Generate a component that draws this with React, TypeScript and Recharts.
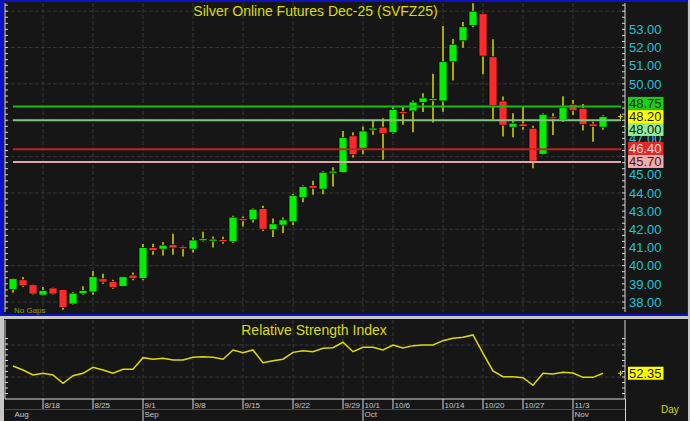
import React from 'react';
import { ComposedChart, Bar, Line, XAxis, YAxis, ReferenceLine, CartesianGrid } from 'recharts';

// ---------- data ----------
const days = ['8/13','8/14','8/15','8/18','8/19','8/20','8/21','8/22','8/25','8/26','8/27','8/28','8/29','9/1','9/2','9/3','9/4','9/5','9/8','9/9','9/10','9/11','9/12','9/15','9/16','9/17','9/18','9/19','9/22','9/23','9/24','9/25','9/26','9/29','9/30','10/1','10/2','10/3','10/6','10/7','10/8','10/9','10/10','10/14','10/15','10/16','10/17','10/20','10/21','10/22','10/23','10/27','10/28','10/29','10/30','10/31','11/3','11/4','11/5','11/6'];
const opens = [38.68,39.22,38.95,38.38,38.77,38.68,37.89,38.45,38.55,39.28,39.13,38.86,39.48,39.30,40.99,40.91,41.15,41.04,40.91,41.37,41.35,41.44,41.31,42.60,42.52,43.14,41.98,42.23,42.41,43.75,44.41,44.21,45.12,45.13,47.14,46.46,47.47,47.62,47.32,48.47,48.51,48.97,49.08,49.06,51.22,52.37,53.22,53.86,51.49,49.06,47.62,47.80,47.56,46.13,48.18,48.05,48.88,48.66,47.80,47.62];
const highs = [39.32,39.37,38.97,38.82,38.80,38.70,38.55,38.86,39.70,39.55,39.22,39.40,39.63,41.19,41.20,41.30,41.75,41.10,41.55,41.86,41.60,41.59,42.74,42.70,43.16,43.29,42.60,42.65,43.95,44.41,44.67,45.20,45.42,47.41,47.34,47.65,47.98,48.11,48.79,48.79,49.08,49.48,50.56,53.18,52.47,53.40,54.43,53.91,52.45,49.30,48.38,48.75,47.69,48.38,48.38,49.32,49.12,48.90,47.92,48.27];
const lows = [38.51,38.82,38.40,38.36,38.40,37.58,37.85,38.40,38.40,39.00,38.73,38.84,39.19,39.19,40.60,40.56,40.60,40.50,40.73,41.33,41.00,41.20,41.24,42.15,42.37,41.90,41.57,41.79,42.23,43.49,43.90,43.93,44.35,45.10,45.95,46.13,47.20,45.82,47.25,47.75,47.34,48.46,47.87,48.47,50.18,51.99,53.11,50.53,48.05,47.10,47.07,47.47,45.36,46.10,47.19,47.92,48.29,47.43,46.82,47.47];
const closes = [39.28,38.89,38.44,38.64,38.44,37.69,38.49,38.64,39.39,39.10,38.80,39.39,39.30,40.99,40.82,41.13,40.97,40.93,41.41,41.48,41.46,41.31,42.67,42.47,43.11,42.01,42.30,42.52,43.86,44.35,44.26,45.14,45.17,47.04,46.10,47.41,47.56,47.26,48.60,48.38,49.00,49.23,49.19,51.22,52.18,53.14,54.00,51.53,48.82,47.73,47.84,47.65,45.75,48.33,48.09,48.69,48.53,47.76,47.65,48.20];
const rsiValues = [56.9,54.4,51.3,52.3,51.3,46.1,50.8,52.3,56.1,54.4,52.3,54.8,54.8,62.1,61.1,61.7,60.6,60.6,62.3,62.7,62.3,61.1,66.9,65.2,66.9,58.9,60.2,61.1,65.4,66.4,65.8,67.9,68.3,71.7,65.8,68.6,68.6,66.9,70.0,68.1,69.6,70.0,70.0,72.7,74.2,74.8,76.3,64.8,53.8,50.2,50.2,49.6,44.8,52.3,51.9,52.9,52.5,49.8,49.8,52.35];

const priceGridValues = [38, 40, 42, 44, 46, 48, 50, 52, 54];
const rsiGridValues = [50, 70];
const dateTickDays = ['8/18','8/25','9/1','9/8','9/15','9/22','9/29','10/1','10/6','10/14','10/20','10/27','11/3'];
const monthDays = ['8/13','9/1','10/1','11/3'];
const monthNames = ['Aug','Sep','Oct','Nov'];

const levelValues = [48.75, 48.0, 46.4, 45.7];
const title = 'Silver Online Futures Dec-25 (SVFZ25)';
const rsiTitle = 'Relative Strength Index';

// ---------- derived ----------
const rows = days.map((d, i) => ({
  i, day: d, o: opens[i], h: highs[i], l: lows[i], c: closes[i],
  range: [lows[i], highs[i]], rsi: rsiValues[i],
}));
const lastClose = closes[closes.length - 1];
const lastRsi = rsiValues[rsiValues.length - 1];
const dateTickIdx = dateTickDays.map((d) => days.indexOf(d));
const monthIdx = monthDays.map((d) => days.indexOf(d));
const axisTickIdx = Array.from(new Set([...monthIdx, ...dateTickIdx])).sort((a, b) => a - b);

const X_DOMAIN: [number, number] = [-0.8, 61.2];
const P_DOMAIN: [number, number] = [37.45, 54.45];
const R_DOMAIN: [number, number] = [36.25, 85.625];
const P_PX_PER_UNIT = 309 / (P_DOMAIN[1] - P_DOMAIN[0]);

const priceTicks: number[] = [];
for (let n = 37; n <= 55; n++) for (let k = 0; k < 3; k++) {
  const v = n + k / 3;
  if (v > P_DOMAIN[0] && v < P_DOMAIN[1]) priceTicks.push(v);
}
const rsiTicks: number[] = [];
for (let k = -3; k <= 7; k++) {
  const v = 50 + k * 3.4375;
  if (v > R_DOMAIN[0] && v < R_DOMAIN[1]) rsiTicks.push(v);
}

// ---------- styles ----------
const FONT = '"Liberation Sans", Arial, sans-serif';
const BG = '#161616';
const GRID = '#363636';
const AXIS = '#d6d6d6';
const WICK = '#b8b800';
const UP = '#00f000';
const DOWN = '#ff2b2b';
const CYAN = '#18c6da';
const YEL = '#dcdc00';

const levelStyles = [
  { stroke: '#10c010', bg: '#18d018', fg: '#0a1a0a', dy: -3.2 },
  { stroke: '#80c480', bg: '#94ec94', fg: '#102010', dy: 9.2 },
  { stroke: '#c02222', bg: '#e42828', fg: '#ffdede', dy: -0.9 },
  { stroke: '#e2a6a6', bg: '#f4abab', fg: '#3a1c1c', dy: -0.6 },
];
// value at which each price tag box is centred (tags cover the axis labels beneath them)
const tagCentres = [
  ...levelValues.map((v, k) => v - levelStyles[k].dy / P_PX_PER_UNIT),
  lastClose,
];

const isMajor = (v: number) => Math.abs(v - Math.round(v)) < 1e-6;
const isCovered = (v: number) => tagCentres.some((t) => Math.abs(t - v) < 0.45);

const Candle = (props: any) => {
  const { x, y, width, height, payload } = props;
  if (x == null || y == null) return null;
  const { o, h, l, c } = payload;
  const cx = x + width / 2;
  const per = h > l ? height / (h - l) : 0;
  const yv = (v: number) => y + (h - v) * per;
  const top = yv(Math.max(o, c));
  const bot = yv(Math.min(o, c));
  const up = c >= o;
  const bh = Math.max(bot - top, 2);
  return (
    <g>
      <line x1={cx} x2={cx} y1={y} y2={y + height} stroke={WICK} strokeWidth={1.8} />
      <rect x={cx - 4} y={top - (bh - (bot - top)) / 2} width={8} height={bh} fill={up ? UP : DOWN} stroke="#050505" strokeWidth={0.7} />
    </g>
  );
};

const RightPriceTick = (p: any) => {
  const { x, y, payload } = p;
  const v = payload.value;
  const show = isMajor(v) && v >= 38 && v <= 53 && !isCovered(v);
  return (
    <g>
      <line x1={x - 3} x2={x} y1={y} y2={y} stroke={AXIS} strokeWidth={1} />
      {show ? (
        <text x={x + 4} y={y + 4.7} fontSize={13} fill={CYAN} fontFamily={FONT}>{Math.round(v).toFixed(2)}</text>
      ) : null}
    </g>
  );
};

const LeftTick = (p: any) => {
  const { x, y } = p;
  return <line x1={x} x2={x + 3} y1={y} y2={y} stroke={AXIS} strokeWidth={1} />;
};

const RightRsiTick = (p: any) => {
  const { x, y } = p;
  return <line x1={x - 3} x2={x} y1={y} y2={y} stroke={AXIS} strokeWidth={1} />;
};

const DateTick = (p: any) => {
  const { x, y, payload } = p;
  const v = payload.value;
  const di = dateTickIdx.indexOf(v);
  const mi = monthIdx.indexOf(v);
  return (
    <g>
      {di >= 0 ? (
        <g>
          <line x1={x} x2={x} y1={y} y2={y + 10} stroke={AXIS} strokeWidth={1} />
          <text x={x + 1.5} y={y + 8.5} fontSize={8} fill="#c8c8c8" fontFamily={FONT}>{dateTickDays[di]}</text>
        </g>
      ) : null}
      {mi >= 0 ? (
        <g>
          {mi > 0 ? <line x1={x} x2={x} y1={y + 10} y2={y + 22} stroke={AXIS} strokeWidth={1} /> : null}
          <text x={x + 1.5} y={y + 17.5} fontSize={8} fill="#c8c8c8" fontFamily={FONT}>{monthNames[mi]}</text>
        </g>
      ) : null}
    </g>
  );
};

const makeTag = (text: string, bg: string, fg: string, dy: number, marker: boolean) => (p: any) => {
  const vb = p.viewBox || {};
  const x0 = (vb.x || 0) + (vb.width || 0);
  const yc = (vb.y || 0) + dy;
  return (
    <g>
      {marker ? <path d={`M${x0 - 7} ${yc}h5M${x0 - 4.5} ${yc - 2.5}v5`} stroke={YEL} strokeWidth={1} /> : null}
      <rect x={x0 + 3} y={yc - 6.5} width={35.5} height={13} fill={bg} />
      <text x={x0 + 4} y={yc + 4.7} fontSize={13} fill={fg} fontFamily={FONT}>{text}</text>
    </g>
  );
};

const mainMargin = { top: 3, right: 3, bottom: 4, left: 0 };

export default function App() {
  return (
    <div style={{ position: 'absolute', left: 0, top: 0, width: 690, height: 421, background: '#c6c6c6', overflow: 'hidden', fontFamily: FONT }}>
      <div style={{ position: 'absolute', left: 0, top: 0, width: 688, height: 316, background: '#0c12c4' }} />
      <div style={{ position: 'absolute', left: 4, top: 2, width: 683, height: 312, background: BG }} />
      <div style={{ position: 'absolute', left: 4, top: 319, width: 684, height: 102, background: BG }} />

      <div style={{ position: 'absolute', left: 0, top: 0 }}>
        <ComposedChart width={690} height={316} data={rows} margin={mainMargin}>
          <CartesianGrid yAxisId="p" stroke={GRID} strokeDasharray="4 2" horizontalValues={priceGridValues} verticalValues={dateTickIdx} />
          <XAxis type="number" dataKey="i" domain={X_DOMAIN} allowDataOverflow hide />
          <YAxis yAxisId="p" orientation="right" type="number" domain={P_DOMAIN} allowDataOverflow width={62}
            ticks={priceTicks} interval={0} tickSize={0} tickMargin={0} tickLine={false}
            axisLine={{ stroke: AXIS }} tick={RightPriceTick} />
          <YAxis yAxisId="L" orientation="left" type="number" domain={P_DOMAIN} allowDataOverflow width={5}
            ticks={priceTicks} interval={0} tickSize={0} tickMargin={0} tickLine={false}
            axisLine={{ stroke: AXIS }} tick={LeftTick} />
          <Bar yAxisId="p" dataKey="range" barSize={8} shape={Candle} isAnimationActive={false} />
          {levelValues.map((v, k) => (
            <ReferenceLine key={'ln' + k} yAxisId="p" segment={[{ x: 0, y: v }, { x: 60.8, y: v }]}
              stroke={levelStyles[k].stroke} strokeWidth={2} ifOverflow="visible" />
          ))}
        </ComposedChart>
      </div>

      {/* overlay with identical geometry: price tags drawn above the axis labels */}
      <div style={{ position: 'absolute', left: 0, top: 0 }}>
        <ComposedChart width={690} height={316} data={rows} margin={mainMargin}>
          <XAxis type="number" dataKey="i" domain={X_DOMAIN} allowDataOverflow hide />
          <YAxis yAxisId="p" orientation="right" type="number" domain={P_DOMAIN} allowDataOverflow width={62}
            tick={false} tickLine={false} axisLine={false} />
          <YAxis yAxisId="L" orientation="left" type="number" domain={P_DOMAIN} allowDataOverflow width={5}
            tick={false} tickLine={false} axisLine={false} />
          {levelValues.map((v, k) => (
            <ReferenceLine key={'tg' + k} yAxisId="p" y={v} stroke="none" strokeOpacity={0}
              label={makeTag(v.toFixed(2), levelStyles[k].bg, levelStyles[k].fg, levelStyles[k].dy, false)} />
          ))}
          <ReferenceLine yAxisId="p" y={lastClose} stroke="none" strokeOpacity={0}
            label={makeTag(lastClose.toFixed(2), '#ffff00', '#1a1a00', 0, true)} />
        </ComposedChart>
      </div>

      <div style={{ position: 'absolute', left: 0, top: 318 }}>
        <ComposedChart width={690} height={103} data={rows} margin={{ top: 2, right: 3, bottom: 0, left: 0 }}>
          <CartesianGrid yAxisId="r" stroke={GRID} strokeDasharray="4 2" horizontalValues={rsiGridValues} verticalValues={dateTickIdx} />
          <XAxis type="number" dataKey="i" domain={X_DOMAIN} allowDataOverflow height={22}
            ticks={axisTickIdx} interval={0} tickSize={0} tickMargin={0} tickLine={false}
            axisLine={{ stroke: AXIS }} tick={DateTick} />
          <YAxis yAxisId="r" orientation="right" type="number" domain={R_DOMAIN} allowDataOverflow width={62}
            ticks={rsiTicks} interval={0} tickSize={0} tickMargin={0} tickLine={false}
            axisLine={{ stroke: AXIS }} tick={RightRsiTick} />
          <YAxis yAxisId="L" orientation="left" type="number" domain={R_DOMAIN} allowDataOverflow width={5}
            ticks={rsiTicks} interval={0} tickSize={0} tickMargin={0} tickLine={false}
            axisLine={{ stroke: AXIS }} tick={LeftTick} />
          <Line yAxisId="r" type="linear" dataKey="rsi" stroke={YEL} strokeWidth={1.5} dot={false} isAnimationActive={false} />
          <ReferenceLine yAxisId="r" y={lastRsi} stroke="none" strokeOpacity={0}
            label={makeTag(lastRsi.toFixed(2), '#ffff00', '#1a1a00', 0, true)} />
        </ComposedChart>
      </div>

      <div style={{ position: 'absolute', left: 0, top: 4, width: 631, textAlign: 'center', fontSize: 14, lineHeight: 1, color: YEL, whiteSpace: 'pre' }}>{title}</div>
      <div style={{ position: 'absolute', left: 0, top: 323, width: 628, textAlign: 'center', fontSize: 14, lineHeight: 1, color: YEL, whiteSpace: 'pre' }}>{rsiTitle}</div>
      <div style={{ position: 'absolute', left: 14, top: 307, fontSize: 8, lineHeight: 1, color: '#9c9c00' }}>No Gaps</div>
      <div style={{ position: 'absolute', left: 661, top: 405, fontSize: 10, lineHeight: 1, color: YEL }}>Day</div>
      <div style={{ position: 'absolute', left: 5, top: 409, width: 620, height: 1, background: '#4a4a4a' }} />
      <div style={{ position: 'absolute', left: 625, top: 399, width: 1, height: 22, background: AXIS }} />
    </div>
  );
}
